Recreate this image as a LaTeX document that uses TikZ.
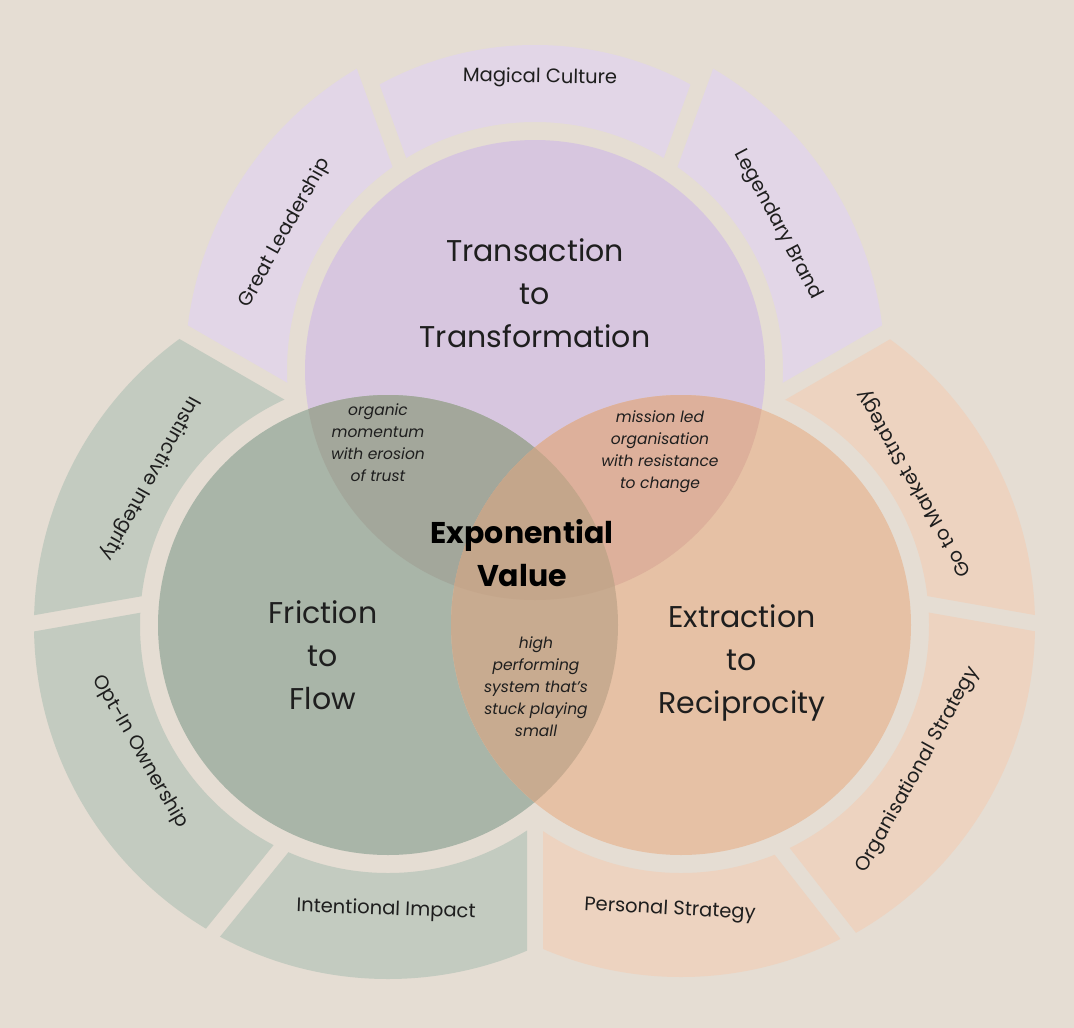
\documentclass[tikz,border=0pt]{standalone}
\usepackage{fontspec}
\setmainfont{Poppins}
\usetikzlibrary{calc}
\definecolor{cBg}{HTML}{E5DDD3}
\definecolor{cPout}{HTML}{E2D6E7}
\definecolor{cPin}{HTML}{D7C6DF}
\definecolor{cGout}{HTML}{C3CBC0}
\definecolor{cGin}{HTML}{A9B5A8}
\definecolor{cOout}{HTML}{EDD3C0}
\definecolor{cOin}{HTML}{E6C1A5}
\definecolor{cPG}{HTML}{A3A79B}
\definecolor{cPO}{HTML}{DDB09B}
\definecolor{cGO}{HTML}{C8AB90}
\definecolor{cPGO}{HTML}{C4A68B}
\definecolor{cTxt}{HTML}{1E1E1E}
\newcommand\myseg[5]{%
 \begin{scope}
 \clip ($(C)+({-(#2)-90}:8)$) -- ++({-(#2)}:800) -- ($(C)+({-(#3)+90}:8)+({-(#3)}:800)$) -- ($(C)+({-(#3)+90}:8)$) -- cycle;
 \fill[#4, even odd rule] (#1) circle (#5) (#1) circle (248);
 \end{scope}}
\tikzset{
 big/.style={font=\fontsize{30}{43}\selectfont, text=cTxt, align=center},
 small/.style={font=\fontsize{15.5}{22}\selectfont\itshape, text=cTxt, align=center},
 seglabel/.style={font=\fontsize{19.5}{22}\selectfont, text=cTxt},
}
\begin{document}
\begin{tikzpicture}[x=1pt,y=-1pt]
\fill[cBg] (0,0) rectangle (1074,1028);
\useasboundingbox (0,0) rectangle (1074,1028);
\coordinate (C) at (535,535);
\coordinate (T) at (535,370);
\coordinate (G) at (388,625);
\coordinate (O) at (681,625);
% outer segments
\myseg{T}{30}{70}{cPout}{350}
\myseg{T}{70}{110}{cPout}{325}
\myseg{T}{110}{150}{cPout}{350}
\myseg{G}{150}{190}{cGout}{354}
\myseg{G}{190}{231}{cGout}{354}
\myseg{G}{231}{270}{cGout}{354}
\myseg{O}{270}{308}{cOout}{352}
\myseg{O}{308}{350}{cOout}{354}
\myseg{O}{350}{390}{cOout}{354}
% circles
\fill[cPin] (T) circle (230);
\fill[cGin] (G) circle (230);
\fill[cOin] (O) circle (230);
\begin{scope}\clip (T) circle (230); \fill[cPG] (G) circle (230); \fill[cPO] (O) circle (230); \end{scope}
\begin{scope}\clip (G) circle (230); \fill[cGO] (O) circle (230); \end{scope}
\begin{scope}\clip (T) circle (230); \clip (G) circle (230); \fill[cPGO] (O) circle (230); \end{scope}
% labels
\node[big] (tt) at (535,293) {Transaction\\to\\Transformation};
\node[big] (ff) at (323,655) {Friction\\to\\Flow};
\node[big] (er) at (742,663) {Extraction\\to\\Reciprocity};
\node[big, font=\fontsize{30}{43}\selectfont\bfseries, text=black] (ev) at (522,553) {Exponential\\Value};
\node[small] (om) at (378,443) {organic\\momentum\\with erosion\\of trust};
\node[small] (ml) at (660,452) {mission led\\organisation\\with resistance\\to change};
\node[small] (hp) at (536,687) {high\\performing\\system that’s\\stuck playing\\small};
\node[seglabel, rotate=-1] (mc) at (540,78) {Magical Culture};
\node[seglabel, rotate=61] (gl) at (285,233) {Great Leadership};
\node[seglabel, rotate=-62] (lb) at (778,225) {Legendary Brand};
\node[seglabel, rotate=-119] (ii) at (150,478) {Instinctive Integrity};
\node[seglabel, rotate=-60] (oi) at (140,752) {Opt-In Ownership};
\node[seglabel, rotate=-2] (im) at (386,910) {Intentional Impact};
\node[seglabel, rotate=-3] (ps) at (670,910) {Personal Strategy};
\node[seglabel, rotate=61] (os) at (918,770) {Organisational Strategy};
\node[seglabel, rotate=120] (gm) at (915,483) {Go to Market Strategy};
\end{tikzpicture}
\end{document}
